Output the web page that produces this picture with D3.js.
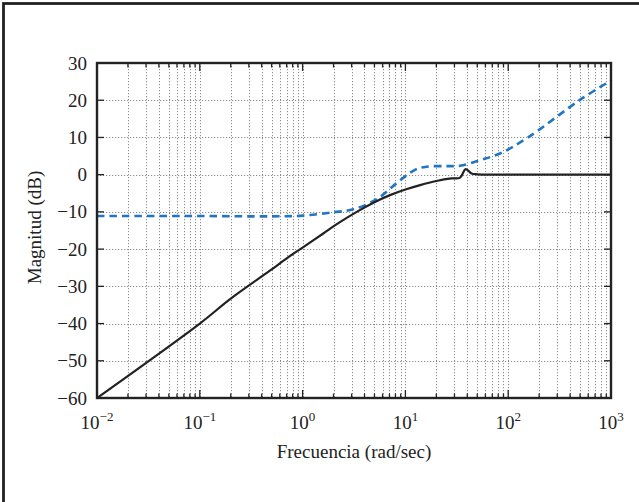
<!DOCTYPE html>
<html>
<head>
<meta charset="utf-8">
<script src="https://cdn.jsdelivr.net/npm/d3@7"></script>
<style>
  html, body { margin: 0; padding: 0; background: #fff; }
  svg { display: block; }
  text { font-family: "Liberation Serif", "Times New Roman", serif; fill: #222; }
</style>
</head>
<body>
<svg id="chart" width="639" height="502"></svg>
<script>
// ---- data ----
const solidFreq = [0.01, 0.1, 0.2, 0.48, 0.75, 1.0, 1.59, 2.15, 3.36, 5.0, 7.08, 10, 13.9, 20, 28, 34, 38.6, 44, 50, 70, 100, 1000];
const solidMag  = [-60, -40, -33.3, -25.8, -21.9, -19.6, -15.8, -13.3, -10.0, -7.4, -5.5, -4.0, -2.8, -1.7, -1.0, -0.8, 1.5, 0.3, 0.1, 0.0, 0.0, 0.0];

const dashFreq = [0.01, 0.1, 0.5, 1.0, 2.0, 3.12, 5.26, 8.2, 12.4, 16.1, 25, 34, 53.2, 83.2, 156, 499, 1000];
const dashMag  = [-11.1, -11.1, -11.2, -11.0, -10.1, -9.3, -6.6, -2.3, 1.3, 2.15, 2.3, 2.4, 3.9, 5.7, 10.0, 20.1, 25.3];

const yTicks = [-60, -50, -40, -30, -20, -10, 0, 10, 20, 30];
const xExponents = [-2, -1, 0, 1, 2, 3];

const yTitle = "Magnitud (dB)";
const xTitle = "Frecuencia (rad/sec)";

// ---- layout ----
const svg = d3.select("#chart");
const L = 97, R = 611, T = 63, B = 398;
const FS = 19;

// page frame (extends beyond window on right/bottom)
svg.append("rect")
  .attr("x", 3.5).attr("y", 3.5)
  .attr("width", 700).attr("height", 600)
  .attr("fill", "none").attr("stroke", "#222").attr("stroke-width", 2.8);

const x = d3.scaleLog().domain([1e-2, 1e3]).range([L, R]);
const y = d3.scaleLinear().domain([-60, 30]).range([B, T]);

// minor + major x positions
const xAll = [];
for (let e = -2; e < 3; e++) {
  for (let m = 1; m <= 9; m++) xAll.push(m * Math.pow(10, e));
}
xAll.push(1000);
const xMinor = xAll.filter(v => Math.abs(Math.log10(v) - Math.round(Math.log10(v))) > 1e-9);
const xMajor = xExponents.map(e => Math.pow(10, e));

const grid = svg.append("g").attr("stroke", "#8c8c8c").attr("stroke-width", 1)
  .attr("stroke-dasharray", "1.2,1.8");
grid.selectAll("line.vx").data(xAll.filter(v => v > 0.0100001 && v < 999.9)).join("line")
  .attr("x1", d => Math.round(x(d)) + 0.5).attr("x2", d => Math.round(x(d)) + 0.5)
  .attr("y1", T).attr("y2", B);
grid.selectAll("line.hy").data(yTicks.filter(v => v > -60 && v < 30)).join("line")
  .attr("x1", L).attr("x2", R)
  .attr("y1", d => Math.round(y(d)) + 0.5).attr("y2", d => Math.round(y(d)) + 0.5);

// clip
svg.append("defs").append("clipPath").attr("id", "clip")
  .append("rect").attr("x", L).attr("y", T).attr("width", R - L).attr("height", B - T);

const line = d3.line().curve(d3.curveCatmullRom.alpha(0.5)).x(d => x(d[0])).y(d => y(d[1]));

svg.append("path")
  .datum(dashFreq.map((f, i) => [f, dashMag[i]]))
  .attr("clip-path", "url(#clip)")
  .attr("fill", "none").attr("stroke", "#2176c4").attr("stroke-width", 2.6)
  .attr("stroke-dasharray", "7.5,5")
  .attr("d", line);

svg.append("path")
  .datum(solidFreq.map((f, i) => [f, solidMag[i]]))
  .attr("clip-path", "url(#clip)")
  .attr("fill", "none").attr("stroke", "#222").attr("stroke-width", 2.2)
  .attr("stroke-linejoin", "round")
  .attr("d", line);

// ticks (inward, all sides)
const tk = svg.append("g").attr("stroke", "#222").attr("stroke-width", 1.3);
xMinor.forEach(v => {
  const px = x(v);
  tk.append("line").attr("x1", px).attr("x2", px).attr("y1", B).attr("y2", B - 4.5);
  tk.append("line").attr("x1", px).attr("x2", px).attr("y1", T).attr("y2", T + 4.5);
});
xMajor.forEach(v => {
  const px = x(v);
  tk.append("line").attr("x1", px).attr("x2", px).attr("y1", B).attr("y2", B - 8);
  tk.append("line").attr("x1", px).attr("x2", px).attr("y1", T).attr("y2", T + 8);
});
yTicks.forEach(v => {
  const py = y(v);
  tk.append("line").attr("x1", L).attr("x2", L + 7).attr("y1", py).attr("y2", py);
  tk.append("line").attr("x1", R).attr("x2", R - 7).attr("y1", py).attr("y2", py);
});

// frame
svg.append("rect").attr("x", L).attr("y", T).attr("width", R - L).attr("height", B - T)
  .attr("fill", "none").attr("stroke", "#222").attr("stroke-width", 2.4);

// y tick labels
svg.append("g").selectAll("text").data(yTicks).join("text")
  .attr("x", L - 10).attr("y", d => y(d) + 6.5)
  .attr("text-anchor", "end").attr("font-size", FS)
  .text(d => d < 0 ? "\u2212" + Math.abs(d) : d);

// x tick labels
const xl = svg.append("g").selectAll("text").data(xExponents).join("text")
  .attr("x", d => x(Math.pow(10, d))).attr("y", 429)
  .attr("text-anchor", "middle").attr("font-size", FS);
xl.append("tspan").text("10");
xl.append("tspan").attr("dy", -8).attr("font-size", 13)
  .text(d => d < 0 ? "\u2212" + Math.abs(d) : d);

// titles
svg.append("text").attr("x", (L + R) / 2).attr("y", 458)
  .attr("text-anchor", "middle").attr("font-size", FS).text(xTitle);
svg.append("text")
  .attr("transform", `translate(41,${(T + B) / 2 - 3}) rotate(-90)`)
  .attr("text-anchor", "middle").attr("font-size", FS).text(yTitle);
</script>
</body>
</html>
